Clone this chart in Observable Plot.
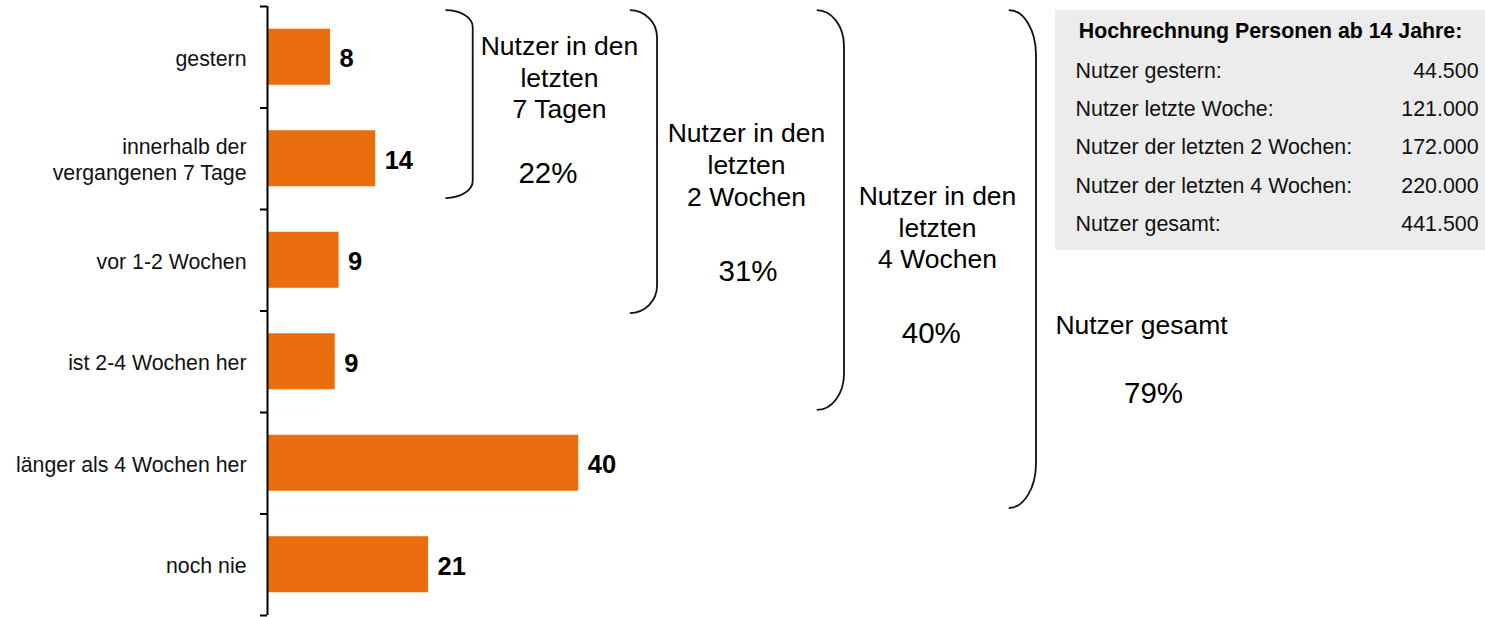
<!DOCTYPE html>
<html>
<head>
<meta charset="utf-8">
<script src="https://cdn.jsdelivr.net/npm/d3@7"></script>
<script src="https://cdn.jsdelivr.net/npm/@observablehq/plot@0.6"></script>
<style>
  html, body { margin: 0; padding: 0; background: #fff; }
  #chart svg { display: block; }
</style>
</head>
<body>
<div id="chart"></div>
<script>
// ---------- DATA ----------
const categories = [
  "gestern",
  "innerhalb der\nvergangenen 7 Tage",
  "vor 1-2 Wochen",
  "ist 2-4 Wochen her",
  "länger als 4 Wochen her",
  "noch nie"
];
const values = [8.1, 13.9, 9.2, 8.7, 40.0, 20.7];
const valueLabels = ["8", "14", "9", "9", "40", "21"];

const groupTitles = [
  "Nutzer in den\nletzten\n7 Tagen",
  "Nutzer in den\nletzten\n2 Wochen",
  "Nutzer in den\nletzten\n4 Wochen",
  "Nutzer gesamt"
];
const groupPercents = ["22%", "31%", "40%", "79%"];

const boxTitle = "Hochrechnung Personen ab 14 Jahre:";
const boxLabels = [
  "Nutzer gestern:",
  "Nutzer letzte Woche:",
  "Nutzer der letzten 2 Wochen:",
  "Nutzer der letzten 4 Wochen:",
  "Nutzer gesamt:"
];
const boxValues = ["44.500", "121.000", "172.000", "220.000", "441.500"];

// ---------- LAYOUT (in scale units: x = percent, y = row index) ----------
const X_MAX = 156.55;
const BAR_HALF = 0.276;
const braceX = [26.44, 50.13, 74.16, 98.84];
const braceTop = -0.46;
const braceBottom = [1.392, 2.525, 3.48, 4.446];
const braceRx = 3.5;
const titleX = [37.53, 61.57, 86.12, 112.34];
const titleY = [0.603, 1.461, 2.081, 2.722];     // baseline of last line
const pctX = [36.05, 61.76, 85.32, 113.88];
const pctY = [1.234, 2.20, 2.82, 3.411];
const box = {x1: 101.29, x2: X_MAX, y1: -0.4606, y2: 1.904};
const boxTitlePos = {x: 128.92, y: -0.185};
const boxLabelX = 103.86, boxValueX = 155.66;
const boxRowY = [0.204, 0.579, 0.958, 1.337, 1.712];

// ---------- TABLES ----------
const rows = categories.map((c, i) => ({row: i, cat: c, value: values[i], label: valueLabels[i]}));
const groups = groupTitles.map((t, i) => ({
  title: t, pct: groupPercents[i],
  tx: titleX[i], ty: titleY[i], px: pctX[i], py: pctY[i],
  bx: braceX[i], by1: braceTop, by2: braceBottom[i]
}));
const boxRows = boxLabels.map((l, i) => ({label: l, value: boxValues[i], y: boxRowY[i]}));

const FONT = "'Liberation Sans', Arial, Helvetica, sans-serif";

function braces(index, scales) {
  const g = d3.create("svg:g")
    .attr("fill", "none")
    .attr("stroke", "#111")
    .attr("stroke-width", 1.8);
  const k = 0.5523;
  for (const b of groups) {
    const x = scales.x(b.bx);
    const x0 = scales.x(b.bx - braceRx);
    const rx = x - x0;
    const y0 = scales.y(b.by1), y1 = scales.y(b.by2);
    const ry = 0.09 * (y1 - y0);
    const d = `M${x0},${y0} C${x0 + rx * k},${y0} ${x},${y0 + ry - ry * k} ${x},${y0 + ry}` +
              ` L${x},${y1 - ry}` +
              ` C${x},${y1 - ry + ry * k} ${x0 + rx * k},${y1} ${x0},${y1}`;
    g.append("path").attr("d", d);
  }
  return g.node();
}

const chart = Plot.plot({
  width: 1485,
  height: 617,
  marginLeft: 267,
  marginRight: 0,
  marginTop: 6,
  marginBottom: 2,
  style: {fontFamily: FONT, fontSize: "20px", color: "#000", background: "#fff", overflow: "visible"},
  x: {domain: [0, X_MAX], axis: null},
  y: {domain: [-0.5, 5.5], reverse: true, axis: null},
  marks: [
    // info box background
    Plot.rect([box], {x1: "x1", x2: "x2", y1: "y1", y2: "y2", fill: "#ececec"}),
    // bars
    Plot.rect(rows, {x1: 0, x2: "value", y1: d => d.row - BAR_HALF, y2: d => d.row + BAR_HALF, fill: "#EA6D0E"}),
    // axis line & boundary ticks
    Plot.ruleX([0], {stroke: "#000", strokeWidth: 2}),
    Plot.ruleY(d3.range(categories.length + 1).map(i => i - 0.5), {x1: -0.9, x2: 0, stroke: "#000", strokeWidth: 2}),
    // category labels
    Plot.axisY(d3.range(categories.length), {
      tickSize: 0, tickPadding: 21, label: null,
      tickFormat: i => categories[i],
      fontSize: 21.3, lineHeight: 1.22, fill: "#111"
    }),
    // value labels
    Plot.text(rows, {x: "value", y: "row", text: "label", dx: 9, dy: 2, textAnchor: "start",
      fontWeight: "bold", fontSize: 25.5, fill: "#000"}),
    // braces
    braces,
    // group titles and percents
    Plot.text(groups, {x: "tx", y: "ty", text: "title", lineAnchor: "bottom", textAnchor: "middle",
      fontSize: 26.5, lineHeight: 1.19, fill: "#000"}),
    Plot.text(groups, {x: "px", y: "py", text: "pct", lineAnchor: "bottom", textAnchor: "middle",
      fontSize: 29.5, fill: "#000"}),
    // info box texts
    Plot.text([boxTitle], {x: boxTitlePos.x, y: boxTitlePos.y, text: d => d, lineAnchor: "bottom",
      textAnchor: "middle", fontWeight: "bold", fontSize: 21.3, fill: "#000"}),
    Plot.text(boxRows, {x: boxLabelX, y: "y", text: "label", lineAnchor: "bottom", textAnchor: "start",
      fontSize: 21.4, fill: "#111"}),
    Plot.text(boxRows, {x: boxValueX, y: "y", text: "value", lineAnchor: "bottom", textAnchor: "end",
      fontSize: 21.4, fill: "#111"})
  ]
});

document.getElementById("chart").appendChild(chart);
</script>
</body>
</html>
